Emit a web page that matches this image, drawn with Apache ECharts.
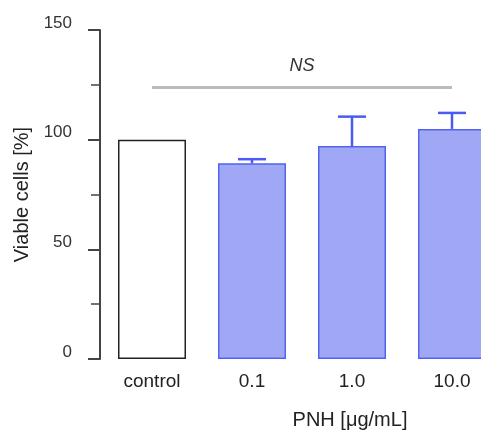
<!DOCTYPE html>
<html>
<head>
<meta charset="utf-8">
<title>Viable cells</title>
<script src="https://cdn.jsdelivr.net/npm/echarts@6/dist/echarts.min.js"></script>
<style>
  html, body { margin: 0; padding: 0; background: #fff; }
  #chart { width: 481px; height: 430px; }
</style>
</head>
<body>
<div id="chart"></div>
<script>
var categories = ['control', '0.1', '1.0', '10.0'];
var means = [100, 89.2, 97.1, 104.9];
var upper = [100, 91.1, 110.5, 112.2];
var nsLevel = 124;

var font = 'Liberation Sans, Arial, sans-serif';

var barData = means.map(function (v, i) {
    if (i === 0) {
        return { value: v, itemStyle: { color: '#fff', borderColor: '#222', borderWidth: 1.5 } };
    }
    return v;
});

var errData = means.map(function (v, i) {
    return [i, v, upper[i]];
});

var chart = echarts.init(document.getElementById('chart'));
chart.setOption({
    animation: false,
    grid: { left: 102, top: 30, width: 400, height: 329, outerBoundsMode: 'none', containLabel: false },
    xAxis: {
        type: 'category',
        data: categories,
        axisLine: { show: false },
        axisTick: { show: false },
        axisLabel: { color: '#222', fontSize: 19, fontFamily: font, margin: 13 },
        name: 'PNH [μg/mL]',
        nameLocation: 'middle',
        nameGap: 51,
        nameTextStyle: { color: '#222', fontSize: 20, fontFamily: font, padding: [0, 0, 0, 96] }
    },
    yAxis: {
        type: 'value',
        min: 0, max: 150, interval: 50,
        offset: 2,
        name: 'Viable cells [%]',
        nameLocation: 'middle',
        nameGap: 68,
        nameTextStyle: { color: '#222', fontSize: 20, fontFamily: font },
        axisLine: { show: true, lineStyle: { color: '#444', width: 2 } },
        axisTick: { show: true, length: 12, lineStyle: { color: '#444', width: 2 } },
        minorTick: { show: true, splitNumber: 2, length: 9, lineStyle: { color: '#444', width: 1.5 } },
        splitLine: { show: false },
        axisLabel: { color: '#333', fontSize: 17, fontFamily: font, margin: 28, verticalAlign: 'bottom', lineHeight: 14 }
    },
    series: [
        {
            type: 'bar',
            data: barData,
            barWidth: 68,
            itemStyle: { color: '#a0a8f6', borderColor: '#5262f2', borderWidth: 1.5 },
            markLine: {
                symbol: 'none',
                silent: true,
                lineStyle: { color: '#bbbbbb', width: 3, type: 'solid' },
                label: {
                    show: true, position: 'middle', formatter: 'NS', distance: 12,
                    color: '#333', fontSize: 18, fontStyle: 'italic', fontFamily: font
                },
                data: [[
                    { coord: [categories[0], nsLevel] },
                    { coord: [categories[3], nsLevel] }
                ]]
            }
        },
        {
            type: 'custom',
            data: errData,
            z: 1,
            renderItem: function (params, api) {
                var i = api.value(0);
                if (api.value(2) <= api.value(1)) return null;
                var base = api.coord([i, api.value(1)]);
                var top = api.coord([i, api.value(2)]);
                var half = 14;
                var style = { stroke: '#4a5af4', lineWidth: 2.5 };
                return {
                    type: 'group',
                    children: [
                        { type: 'line', shape: { x1: top[0], y1: base[1], x2: top[0], y2: top[1] }, style: style },
                        { type: 'line', shape: { x1: top[0] - half, y1: top[1], x2: top[0] + half, y2: top[1] }, style: style }
                    ]
                };
            }
        }
    ]
});
</script>
</body>
</html>
